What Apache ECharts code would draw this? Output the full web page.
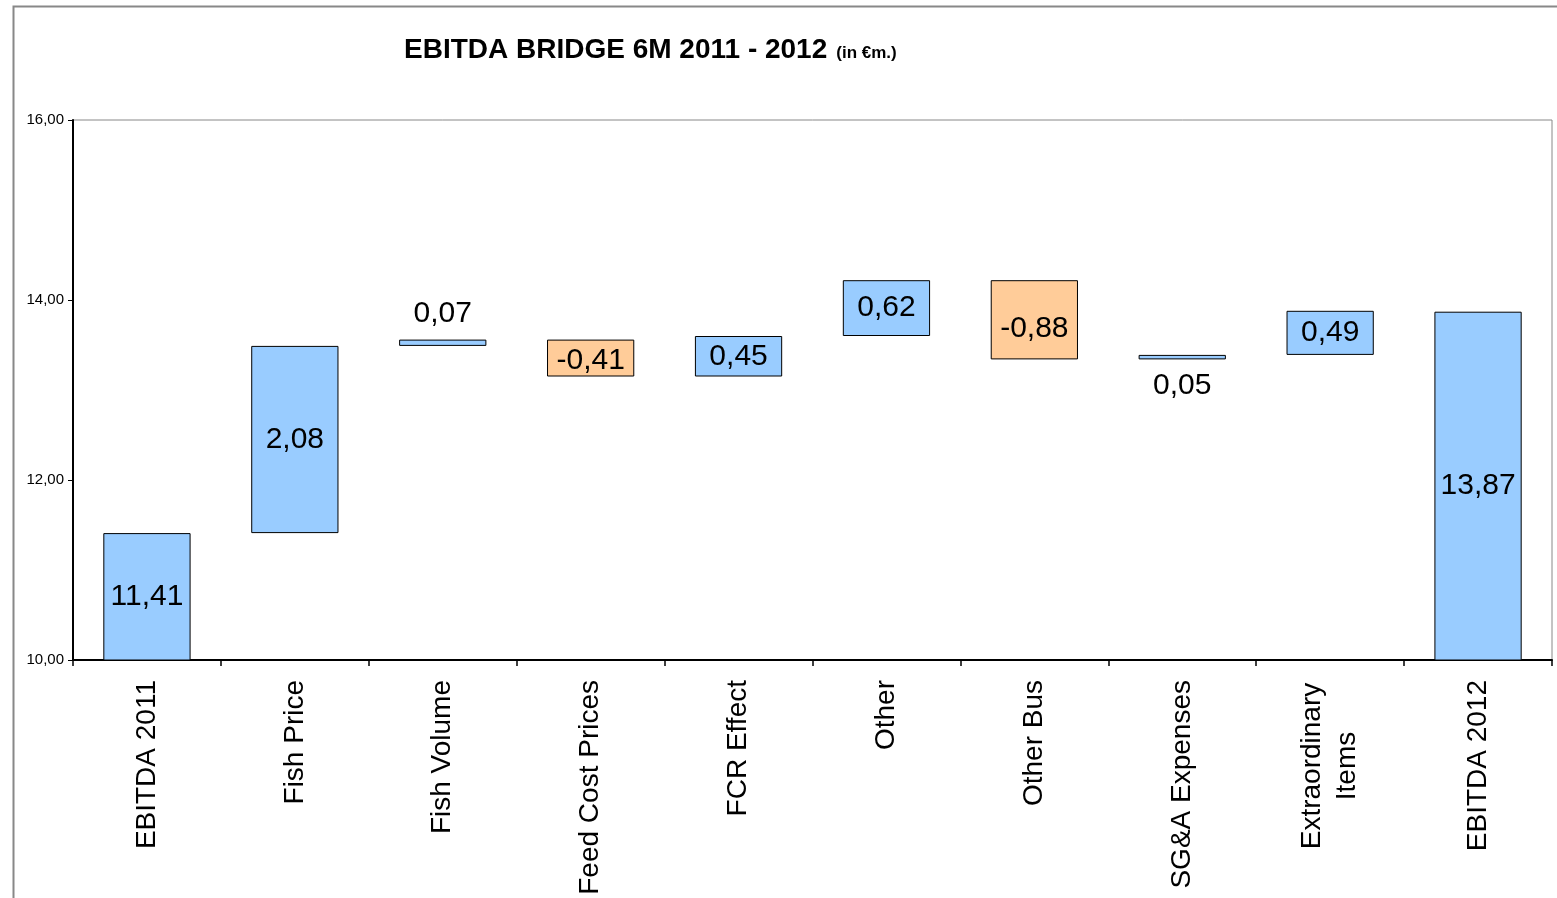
<!DOCTYPE html>
<html>
<head>
<meta charset="utf-8">
<script src="https://cdn.jsdelivr.net/npm/echarts@6/dist/echarts.min.js"></script>
<style>
html,body{margin:0;padding:0;background:#fff;}
#chart{width:1557px;height:898px;}
</style>
</head>
<body>
<div id="chart"></div>
<script>
var categories = ['EBITDA 2011','Fish Price','Fish Volume','Feed Cost Prices','FCR Effect','Other','Other Bus','SG&A Expenses','Extraordinary\nItems','EBITDA 2012'];
var changes = [11.41, 2.08, 0.07, -0.41, 0.45, 0.62, -0.88, 0.05, 0.49, 13.87];
var isTotal = [true, false, false, false, false, false, false, false, false, true];
var yTicks = [10, 12, 14, 16];

var blue = '#99CCFF', orange = '#FFCC99';
var base = [], delta = [];
var running = 0;
for (var i = 0; i < changes.length; i++) {
  var v = changes[i];
  if (isTotal[i]) {
    base.push(0); delta.push(v); running = v;
  } else if (v >= 0) {
    base.push(running); delta.push(v); running = running + v;
  } else {
    base.push(running + v); delta.push(-v); running = running + v;
  }
}
function fmt(v){ return v.toFixed(2).replace('.', ','); }

var labelPos = ['inside','inside','top','inside','inside','inside','inside','bottom','inside','inside'];
var labelOffsetY = [0, 0, 0, 3, 0, 0, 9, 0, 0, 0];
var deltaData = delta.map(function(d, i){
  return {
    value: d,
    itemStyle: {color: changes[i] < 0 ? orange : blue},
    label: {position: labelPos[i], distance: 11, offset: [0, labelOffsetY[i]]}
  };
});

var chart = echarts.init(document.getElementById('chart'), null, {renderer:'canvas'});
chart.setOption({
  animation: false,
  backgroundColor: '#fff',
  graphic: [{
    type: 'rect', left: 11, top: 4,
    shape: {width: 1545, height: 900},
    style: {fill: 'none', stroke: '#888', lineWidth: 2},
    silent: true, z: -10
  }],
  title: {
    left: 399, top: 31,
    text: '{a|EBITDA BRIDGE 6M 2011 - 2012} {b|(in €m.)}',
    textStyle: {
      rich: {
        a: {fontFamily: 'Liberation Sans, Arial', fontWeight: 'bold', fontSize: 28, color: '#000'},
        b: {fontFamily: 'Liberation Sans, Arial', fontWeight: 'bold', fontSize: 17, color: '#000', padding:[7,0,0,4]}
      }
    }
  },
  grid: {
    left: 73, top: 120, right: 5, bottom: 238,
    show: true, borderColor: '#888', borderWidth: 1, backgroundColor: '#fff'
  },
  xAxis: {
    type: 'category',
    data: categories,
    axisLine: {lineStyle: {color: '#000', width: 2}},
    axisTick: {show: true, alignWithLabel: false, length: 6, lineStyle: {color: '#000', width: 1.5}},
    axisLabel: {
      rotate: 90, margin: 20, interval: 0,
      fontFamily: 'Liberation Sans, Arial', fontSize: 28, color: '#000',
      formatter: function(v){
        if (v.indexOf('\n') >= 0) {
          return v.split('\n').map(function(s){ return '{c|' + s + '}'; }).join('\n');
        }
        return v;
      },
      rich: {
        c: {width: 172, align: 'center', fontFamily: 'Liberation Sans, Arial', fontSize: 28, color: '#000', lineHeight: 35}
      }
    }
  },
  yAxis: {
    type: 'value', min: 10, max: 16, interval: 2,
    axisLine: {show: true, lineStyle: {color: '#000', width: 2}},
    axisTick: {show: true, length: 5, lineStyle: {color: '#000'}},
    splitLine: {show: false},
    axisLabel: {
      margin: 9, fontFamily: 'Liberation Sans, Arial', fontSize: 15, color: '#000',
      formatter: function(v){ return yTicks.indexOf(v) >= 0 ? fmt(v) : ''; }
    }
  },
  series: [{
    type: 'bar', stack: 'w', data: base, barCategoryGap: '41%',
    itemStyle: {color: 'rgba(0,0,0,0)'}, silent: true, clip: true
  }, {
    type: 'bar', stack: 'w', data: deltaData, barCategoryGap: '41%', clip: true,
    itemStyle: {borderColor: '#000', borderWidth: 1},
    label: {
      show: true,
      fontFamily: 'Liberation Sans, Arial', fontSize: 30, color: '#000',
      formatter: function(p){ return fmt(changes[p.dataIndex]); }
    }
  }]
});
</script>
</body>
</html>
